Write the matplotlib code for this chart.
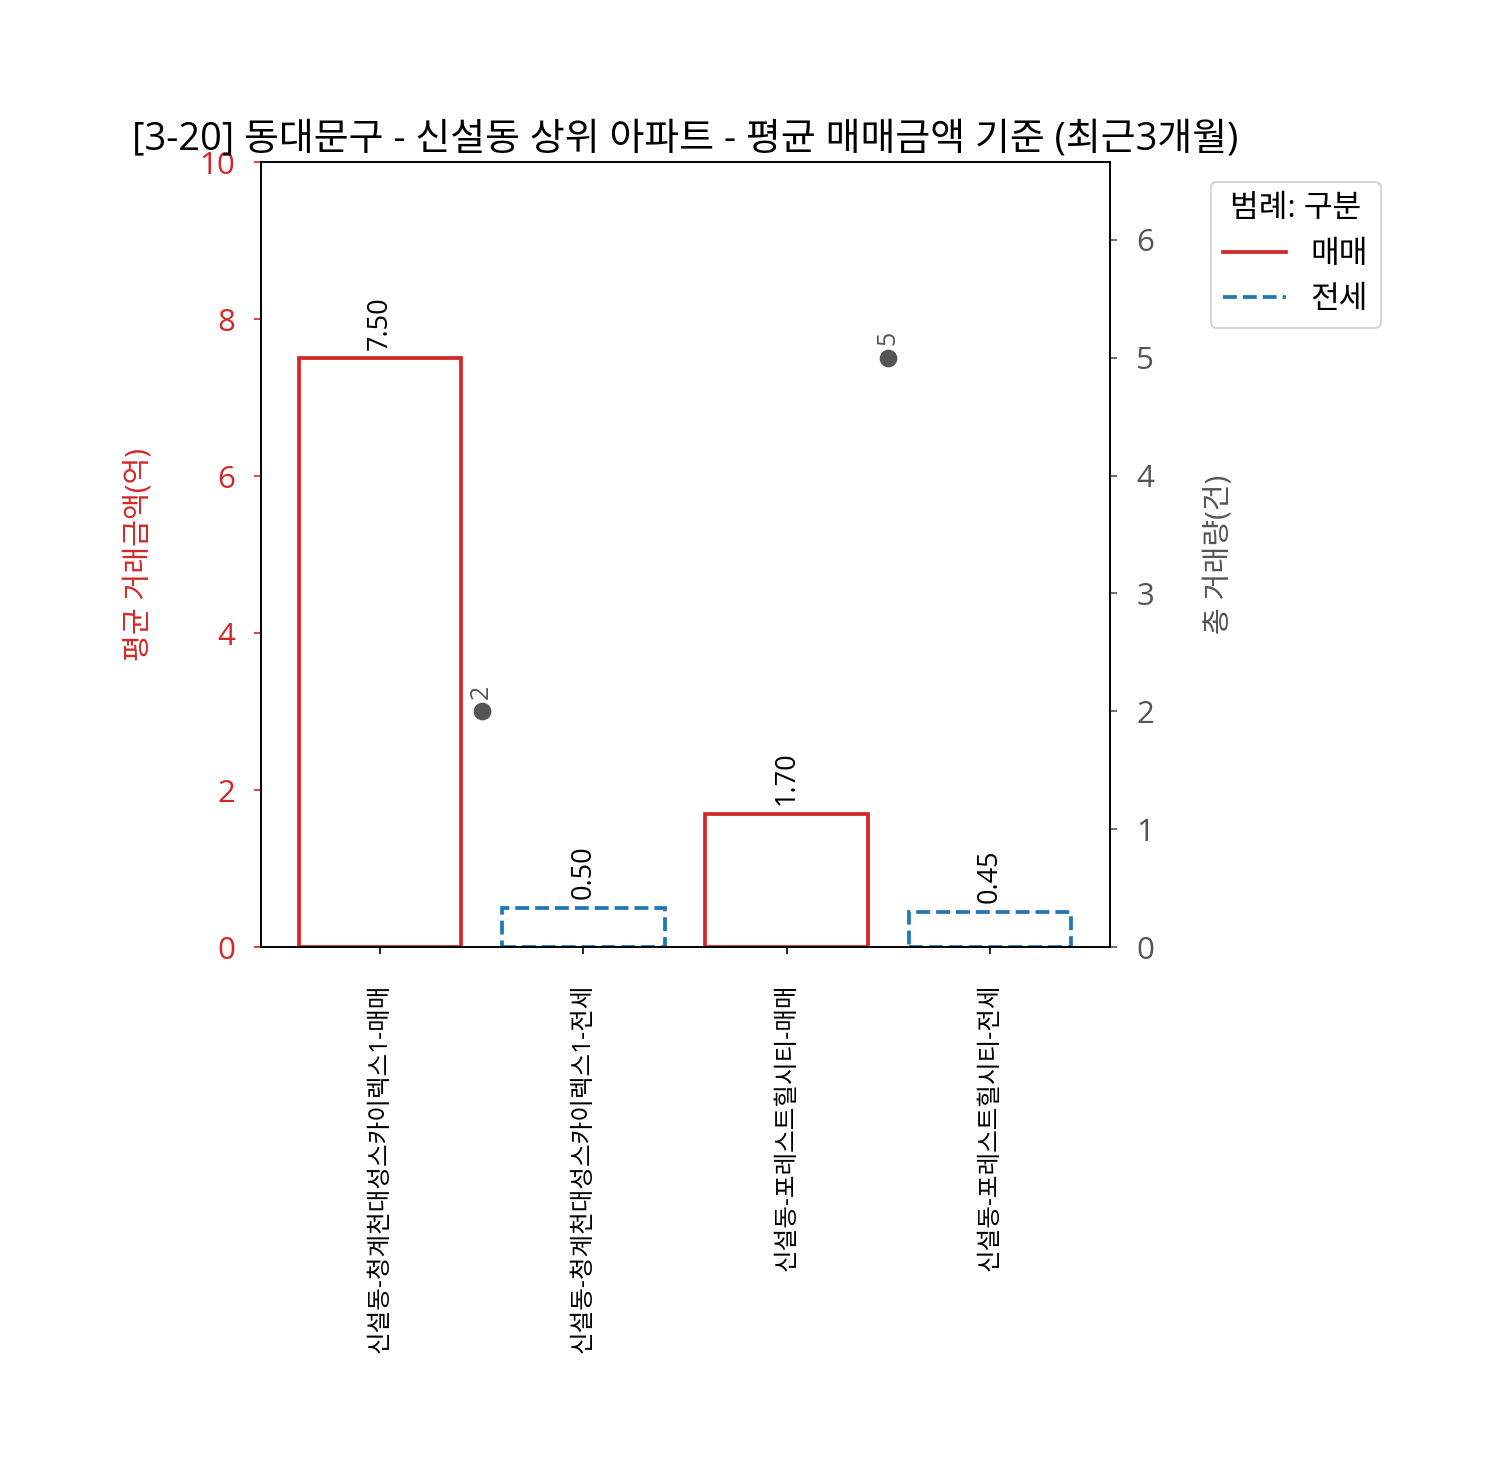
import matplotlib
matplotlib.use("Agg")
import matplotlib.pyplot as plt
from matplotlib.lines import Line2D

plt.rcParams['font.family'] = ['Open Sans', 'Noto Sans CJK KR', 'DejaVu Sans']

# data
labels = ["신설동-청계천대성스카이렉스1-매매", "신설동-청계천대성스카이렉스1-전세",
          "신설동-포레스트힐시티-매매", "신설동-포레스트힐시티-전세"]
prices = [7.50, 0.50, 1.70, 0.45]
kinds = ["매매", "전세", "매매", "전세"]
count_pos = [0.5, 2.5]
counts = [2, 5]

red = "#d62728"
blue = "#1f77b4"
gray = "#555555"

fig = plt.figure(figsize=(9.98, 9.76), dpi=150)
ax = fig.add_axes([0.1743, 0.3531, 0.5672, 0.5362])
ax2 = ax.twinx()

# bars (price, left axis)
x = list(range(len(labels)))
for i, (p, k) in enumerate(zip(prices, kinds)):
    if k == "매매":
        ax.bar(i, p, width=0.8, facecolor="none", edgecolor=red, linewidth=1.8, linestyle="-")
    else:
        ax.bar(i, p, width=0.8, facecolor="none", edgecolor=blue, linewidth=1.8, linestyle="--")
    ax.annotate("%.2f" % p, (i, p), xytext=(0, 4), textcoords="offset points",
                ha="center", va="bottom", rotation=90, fontsize=13)

ax.set_xlim(-0.585, 3.59)
ax.set_ylim(0, 10)
ax.set_xticks(x)
ax.set_xticklabels(labels, rotation=90, fontsize=11.8)
ax.tick_params(axis="x", pad=14)
ax.tick_params(axis="y", colors=red, labelsize=15, pad=9)
ax.set_ylabel("평균 거래금액(억)", color=red, fontsize=14, labelpad=22)

# counts (right axis)
ax2.plot(count_pos, counts, "o", color=gray, markersize=7.5, linestyle="none")
for xp, c in zip(count_pos, counts):
    ax2.annotate(str(c), (xp, c), xytext=(0, 6), textcoords="offset points",
                 ha="center", va="bottom", rotation=90, fontsize=12, color=gray)
ax2.set_ylim(0, 6.66)
ax2.tick_params(axis="y", colors=gray, labelsize=15, pad=9)
ax2.set_ylabel("총 거래량(건)", color=gray, fontsize=14, labelpad=24)

handles = [Line2D([], [], color=red, linestyle="-", linewidth=1.8),
           Line2D([], [], color=blue, linestyle="--", linewidth=1.8)]
leg = ax2.legend(handles, ["매매", "전세"], title="범례: 구분", loc="upper left",
                 bbox_to_anchor=(1.1, 0.995), fontsize=15, title_fontsize=15,
                 handlelength=2.0)

ax.set_title("[3-20] 동대문구 - 신설동 상위 아파트 - 평균 매매금액 기준 (최근3개월)", fontsize=18.2)

fig.savefig("out.png", dpi=150)
